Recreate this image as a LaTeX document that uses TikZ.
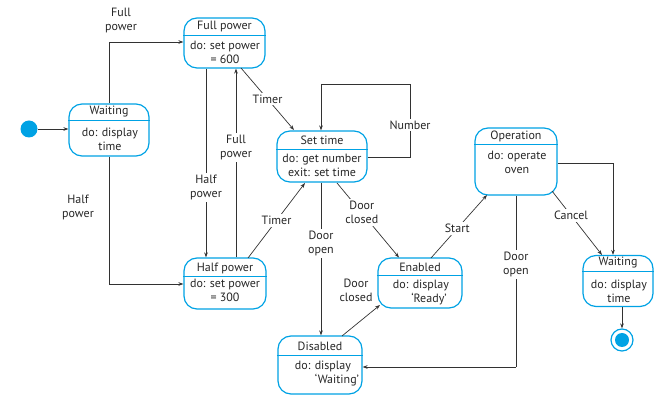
\documentclass[tikz,border=0pt]{standalone}
\usepackage{fontspec}
\setmainfont{PT Sans}
\usetikzlibrary{arrows.meta}
\definecolor{stateblue}{RGB}{0,162,228}
\definecolor{wire}{RGB}{50,50,50}
\tikzset{
  stbox/.style={draw=stateblue, line width=1.2pt, rounded corners=13pt, inner sep=0pt},
  divline/.style={draw=stateblue, line width=1pt},
  txt/.style={inner sep=0pt, align=center, font=\fontsize{12}{14}\selectfont, text=black!85},
  lbl/.style={txt, fill=white, inner sep=2pt},
  conn/.style={draw=wire, line width=0.7pt, -{Stealth[length=5pt,width=3.6pt]}},
  plain/.style={draw=wire, line width=0.7pt}
}
\begin{document}
\begin{tikzpicture}[x=1pt,y=-1pt]
\useasboundingbox (0,0) rectangle (654,395);

% ---- states ----
\node[stbox, minimum width=80pt, minimum height=52pt] (waitL) at (109,130) {};
\draw[divline] (waitL.west |- 0,121) -- (waitL.east |- 0,121);
\node[txt] (waitL-t) at (109,112) {Waiting};
\node[txt] (waitL-b) at (110,139.5) {do: display\\time};

\node[stbox, minimum width=81pt, minimum height=50pt] (full) at (224.5,43) {};
\draw[divline] (full.west |- 0,35.5) -- (full.east |- 0,35.5);
\node[txt] (full-t) at (224.5,26.5) {Full power};
\node[txt] (full-b) at (225,52) {do: set power\\= 600};

\node[stbox, minimum width=90pt, minimum height=51pt] (settime) at (322,156.5) {};
\draw[divline] (settime.west |- 0,150) -- (settime.east |- 0,150);
\node[txt] (settime-t) at (322,140.5) {Set time};
\node[txt] (settime-b) at (322,165) {do: get number\\exit: set time};

\node[stbox, minimum width=82pt, minimum height=51pt] (half) at (225,283.5) {};
\draw[divline] (half.west |- 0,277) -- (half.east |- 0,277);
\node[txt] (half-t) at (225,268.5) {Half power};
\node[txt] (half-b) at (225,290.5) {do: set power\\= 300};

\node[stbox, minimum width=84pt, minimum height=50pt] (enabled) at (420,283) {};
\draw[divline] (enabled.west |- 0,276) -- (enabled.east |- 0,276);
\node[txt] (enabled-t) at (420,267) {Enabled};
\node[txt] (enabled-b) at (421,292) {do: display\\\hspace*{16pt}`Ready'};

\node[stbox, minimum width=84pt, minimum height=58pt] (disabled) at (320,365) {};
\draw[divline] (disabled.west |- 0,356) -- (disabled.east |- 0,356);
\node[txt] (disabled-t) at (320,346) {Disabled};
\node[txt] (disabled-b) at (323,374) {do: display\\\hspace*{28pt}`Waiting'};

\node[stbox, minimum width=82pt, minimum height=67pt] (operation) at (516,161.5) {};
\draw[divline] (operation.west |- 0,145) -- (operation.east |- 0,145);
\node[txt] (operation-t) at (516,136) {Operation};
\node[txt] (operation-b) at (517,162) {do: operate\\oven};

\node[stbox, minimum width=70pt, minimum height=51pt] (waitR) at (618,281) {};
\draw[divline] (waitR.west |- 0,272) -- (waitR.east |- 0,272);
\node[txt] (waitR-t) at (618,263) {Waiting};
\node[txt] (waitR-b) at (619,291.5) {do: display\\time};

% ---- pseudo states ----
\node[circle, fill=stateblue, minimum size=17pt, inner sep=0pt] (init) at (29,129) {};
\node[circle, draw=stateblue, line width=1.2pt, minimum size=22pt, inner sep=0pt] (final) at (622,340) {};
\node[circle, fill=stateblue, minimum size=14pt, inner sep=0pt] (finaldot) at (final.center) {};

% ---- transitions ----
\draw[conn] (init) -- (waitL.west |- init);

\draw[conn] (waitL.north -| 109,0) |- (full.west |- 0,42);
\node[txt] (l-full1) at (121,21) {Full\\power};

\draw[conn] (waitL.south -| 109,0) |- (half.west |- 0,284);
\node[txt] (l-half1) at (78,207) {Half\\power};

\draw[conn] (full.south -| 206,0) -- node[lbl, pos=0.63] (l-half2) {Half\\power} (half.north -| 206,0);
\draw[conn] (half.north -| 236,0) -- node[lbl, pos=0.58] (l-full2) {Full\\power} (full.south -| 236,0);

\coordinate (tA) at (241,68);
\coordinate (tB) at (294,130);
\draw[conn] (tA) -- node[lbl, pos=0.5] (l-timer1) {Timer} (tB);
\coordinate (tC) at (248,258);
\coordinate (tD) at (305,183);
\draw[conn] (tC) -- node[lbl, pos=0.5] (l-timer2) {Timer} (tD);

\coordinate (nA) at (410,157);
\coordinate (nB) at (410,84);
\coordinate (nC) at (321,84);
\draw[plain] (settime.east |- nA) -- (nA) -- node[lbl, pos=0.44] (l-number) {Number} (nB) -- (nC);
\draw[conn] (nC) -- (settime.north -| nC);

\draw[conn] (settime.south -| 321,0) -- node[lbl, pos=0.4] (l-open1) {Door\\open} (disabled.north -| 321,0);

\coordinate (dA) at (337,183);
\coordinate (dB) at (399,257.5);
\draw[conn] (dA) -- node[lbl, pos=0.4] (l-closed1) {Door\\closed} (dB);

\coordinate (eA) at (342,336);
\coordinate (eB) at (380,305);
\draw[conn] (eA) -- (eB);
\node[txt] (l-closed2) at (356,290) {Door\\closed};

\coordinate (sA) at (431,258);
\coordinate (sB) at (487,195);
\draw[conn] (sA) -- node[lbl, pos=0.47] (l-start) {Start} (sB);

\coordinate (oA) at (516,367);
\draw[plain] (operation.south -| oA) -- node[lbl, pos=0.4] (l-open2) {Door\\open} (oA);
\draw[conn] (oA) -- (disabled.east |- oA);

\coordinate (cA) at (552,191);
\coordinate (cB) at (602,255);
\draw[conn] (cA) -- node[lbl, pos=0.38] (l-cancel) {Cancel} (cB);

\coordinate (rA) at (613,163);
\draw[conn] (operation.east |- rA) -| (waitR.north -| rA);

\draw[conn] (waitR.south -| final) -- (final.north);
\end{tikzpicture}
\end{document}
